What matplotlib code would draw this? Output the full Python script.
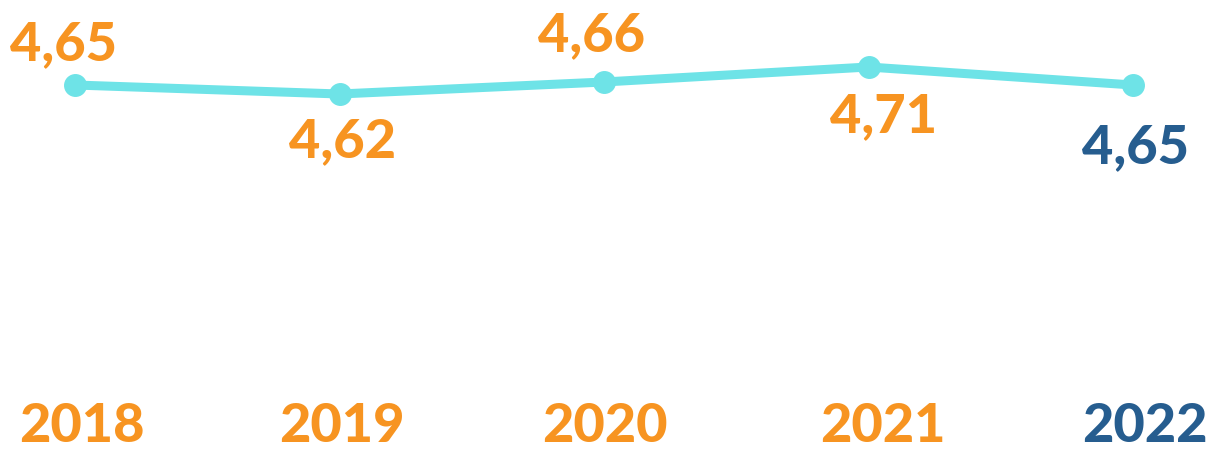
import matplotlib
matplotlib.use("Agg")
import matplotlib.pyplot as plt
from matplotlib import font_manager

years = ["2018", "2019", "2020", "2021", "2022"]
values = [4.65, 4.62, 4.66, 4.71, 4.65]
labels = ["4,65", "4,62", "4,66", "4,71", "4,65"]

ORANGE = "#F79421"
BLUE = "#265D8F"
CYAN = "#6EE3E7"

# pick the heaviest upright Lato file directly
lato = [f for f in font_manager.fontManager.ttflist
        if f.name == "Lato" and f.style == "normal"]
if lato:
    best = max(lato, key=lambda f: int(f.weight) if str(f.weight).isdigit() else 0)
    fp = font_manager.FontProperties(fname=best.fname, size=39)
else:
    fp = font_manager.FontProperties(family="DejaVu Sans", weight="bold", size=39)

fig = plt.figure(figsize=(12.15, 4.5), dpi=100)
ax = fig.add_axes([0, 0, 1, 1])
ax.axis("off")

x = list(range(len(years)))
ax.plot(x, values, color=CYAN, lw=6.5, marker="o", ms=15.5, solid_capstyle="round")

# px per data unit: x 264.5, y 300
ax.set_xlim(-75 / 264.5, 4 + 82 / 264.5)
ax.set_ylim(4.65 - 365 / 300, 4.65 + 85 / 300)

# label offsets in pixels (dx, dy to baseline)
lab_off = [(-12, 25), (3, -63), (-13, 31), (15, -65), (2, -78)]
year_dx = [7, 2, 1, 14, 12]

for i, (v, t) in enumerate(zip(values, labels)):
    col = BLUE if i == len(values) - 1 else ORANGE
    dx, dy = lab_off[i]
    ax.annotate(t, (i, v), xytext=(dx, dy), textcoords="offset pixels",
                ha="center", va="baseline", fontproperties=fp, color=col)
    ycol = BLUE if i == len(years) - 1 else ORANGE
    ax.annotate(years[i], (i, 0), xycoords=("data", "axes fraction"),
                xytext=(year_dx[i], 8), textcoords="offset pixels",
                ha="center", va="baseline", fontproperties=fp, color=ycol)

fig.savefig("out.png", dpi=100)
